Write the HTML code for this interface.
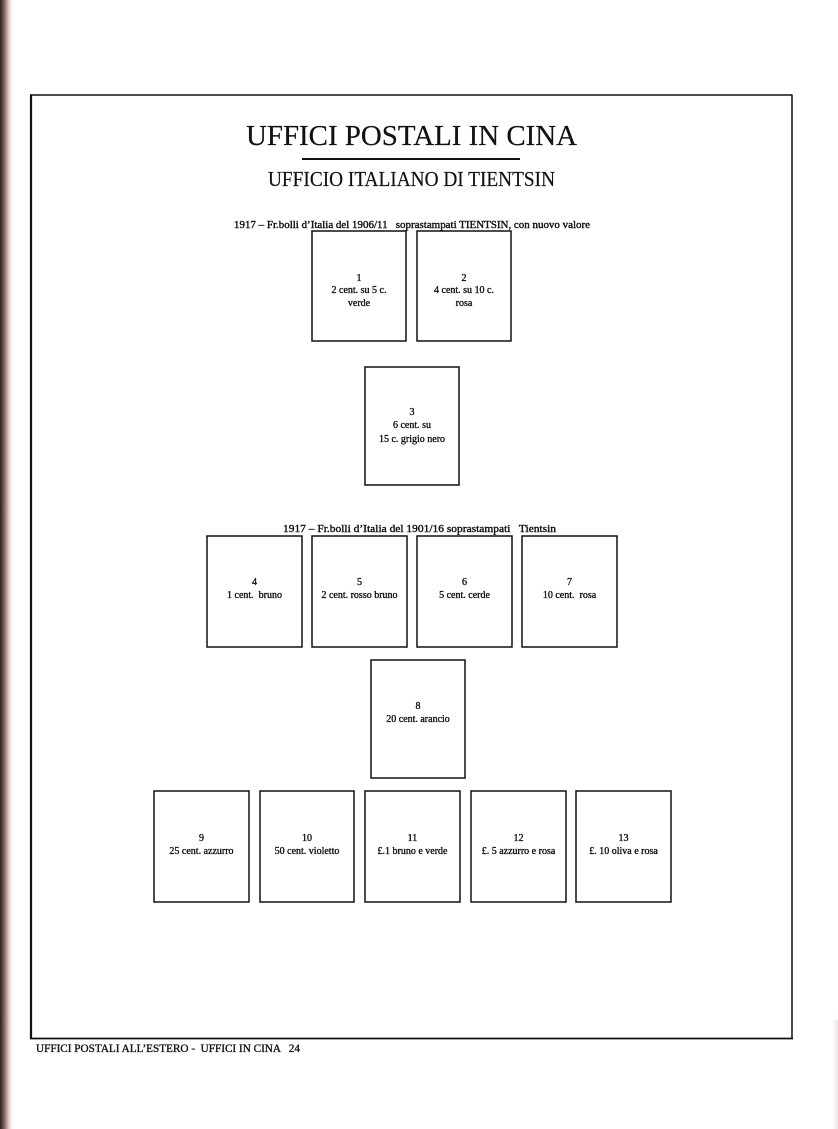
<!DOCTYPE html>
<html>
<head>
<meta charset="utf-8">
<style>
  html,body{margin:0;padding:0;background:#fff;}
  body{width:838px;height:1129px;overflow:hidden;position:relative;}
  svg{position:absolute;left:0;top:0;}
  text{font-family:"Liberation Serif","DejaVu Serif",serif;fill:#111;}
  .lab{font-size:10px;text-anchor:middle;stroke:#111;stroke-width:0.35;}
  .box{fill:#fff;stroke:#111;stroke-width:1.5;}
</style>
</head>
<body>
<svg width="838" height="1129" viewBox="0 0 838 1129" xmlns="http://www.w3.org/2000/svg">
  <defs>
    <linearGradient id="shadowL" x1="0" x2="1" y1="0" y2="0">
      <stop offset="0" stop-color="#2a1c1c"/>
      <stop offset="0.35" stop-color="#8a6a66"/>
      <stop offset="0.7" stop-color="#e8d2cc"/>
      <stop offset="1" stop-color="#ffffff"/>
    </linearGradient>
    <linearGradient id="shadowR" x1="1" x2="0" y1="0" y2="0">
      <stop offset="0" stop-color="#ece4e4"/>
      <stop offset="1" stop-color="#ffffff"/>
    </linearGradient>
  </defs>
  <rect x="0" y="0" width="838" height="1129" fill="#fff"/>
  <rect x="0" y="0" width="13" height="1129" fill="url(#shadowL)"/>
  <rect x="832" y="1020" width="6" height="109" fill="url(#shadowR)"/>

  <!-- frame -->
  <line x1="31" y1="95" x2="31" y2="1039" stroke="#111" stroke-width="2.2"/>
  <line x1="30" y1="95" x2="792" y2="95" stroke="#111" stroke-width="1.5"/>
  <line x1="792" y1="94.5" x2="792" y2="1039" stroke="#111" stroke-width="1.5"/>
  <line x1="30" y1="1038.5" x2="793" y2="1038.5" stroke="#111" stroke-width="1.8"/>

  <!-- titles -->
  <text x="246" y="145" font-size="29" stroke="#111" stroke-width="0.2" textLength="331" lengthAdjust="spacingAndGlyphs">UFFICI POSTALI IN CINA</text>
  <line x1="302" y1="159" x2="520" y2="159" stroke="#111" stroke-width="2"/>
  <text x="268" y="186" font-size="21.5" stroke="#111" stroke-width="0.2" textLength="287" lengthAdjust="spacingAndGlyphs">UFFICIO ITALIANO DI TIENTSIN</text>

  <text x="234" y="228" font-size="11" stroke="#111" stroke-width="0.4" textLength="356" lengthAdjust="spacingAndGlyphs" xml:space="preserve">1917 – Fr.bolli d’Italia del 1906/11   soprastampati TIENTSIN, con nuovo valore</text>

  <!-- row 1 -->
  <rect class="box" x="312" y="231" width="94" height="110"/>
  <rect class="box" x="417" y="231" width="94" height="110"/>
  <text class="lab" x="359" y="281">1</text>
  <text class="lab" x="359" y="293">2 cent. su 5 c.</text>
  <text class="lab" x="359" y="306">verde</text>
  <text class="lab" x="464" y="281">2</text>
  <text class="lab" x="464" y="293">4 cent. su 10 c.</text>
  <text class="lab" x="464" y="306">rosa</text>

  <!-- box 3 -->
  <rect class="box" x="365" y="367" width="94" height="118"/>
  <text class="lab" x="412" y="415">3</text>
  <text class="lab" x="412" y="428">6 cent. su</text>
  <text class="lab" x="412" y="442">15 c. grigio nero</text>

  <text x="283" y="532" font-size="11" stroke="#111" stroke-width="0.4" textLength="273" lengthAdjust="spacingAndGlyphs" xml:space="preserve">1917 – Fr.bolli d’Italia del 1901/16 soprastampati   Tientsin</text>

  <!-- row 4-7 -->
  <rect class="box" x="207" y="536" width="95" height="111"/>
  <rect class="box" x="312" y="536" width="95" height="111"/>
  <rect class="box" x="417" y="536" width="95" height="111"/>
  <rect class="box" x="522" y="536" width="95" height="111"/>
  <text class="lab" x="254.5" y="585">4</text>
  <text class="lab" x="254.5" y="598" xml:space="preserve">1 cent.  bruno</text>
  <text class="lab" x="359.5" y="585">5</text>
  <text class="lab" x="359.5" y="598">2 cent. rosso bruno</text>
  <text class="lab" x="464.5" y="585">6</text>
  <text class="lab" x="464.5" y="598">5 cent. cerde</text>
  <text class="lab" x="569.5" y="585">7</text>
  <text class="lab" x="569.5" y="598" xml:space="preserve">10 cent.  rosa</text>

  <!-- box 8 -->
  <rect class="box" x="371" y="660" width="94" height="118"/>
  <text class="lab" x="418" y="709">8</text>
  <text class="lab" x="418" y="722">20 cent. arancio</text>

  <!-- row 9-13 -->
  <rect class="box" x="154" y="791" width="95" height="111"/>
  <rect class="box" x="260" y="791" width="94" height="111"/>
  <rect class="box" x="365" y="791" width="95" height="111"/>
  <rect class="box" x="471" y="791" width="95" height="111"/>
  <rect class="box" x="576" y="791" width="95" height="111"/>
  <text class="lab" x="201.5" y="841">9</text>
  <text class="lab" x="201.5" y="854">25 cent. azzurro</text>
  <text class="lab" x="307" y="841">10</text>
  <text class="lab" x="307" y="854">50 cent. violetto</text>
  <text class="lab" x="412.5" y="841">11</text>
  <text class="lab" x="412.5" y="854">£.1 bruno e verde</text>
  <text class="lab" x="518.5" y="841">12</text>
  <text class="lab" x="518.5" y="854">£. 5 azzurro e rosa</text>
  <text class="lab" x="623.5" y="841">13</text>
  <text class="lab" x="623.5" y="854">£. 10 oliva e rosa</text>

  <!-- footer -->
  <text x="36" y="1052" font-size="11.5" stroke="#111" stroke-width="0.35" textLength="264" lengthAdjust="spacingAndGlyphs" xml:space="preserve">UFFICI POSTALI ALL’ESTERO -  UFFICI IN CINA   24</text>
</svg>
</body>
</html>
